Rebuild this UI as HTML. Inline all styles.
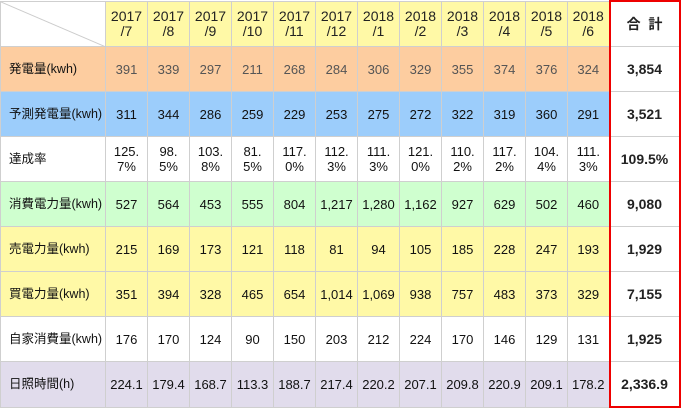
<!DOCTYPE html>
<html><head><meta charset="utf-8">
<style>
body{margin:0;width:681px;height:407px;background:#fff;font-family:"Liberation Sans","Noto Sans CJK JP",sans-serif;overflow:hidden;position:relative}
table{position:absolute;left:0;top:0;border-collapse:collapse;table-layout:fixed}
td{border:1px solid #cfcfcf;height:44px;padding:0;text-align:center;font-size:13px;color:#111;line-height:15px}
td.lbl{text-align:left;padding-left:8px;font-size:12.5px}
tr.h td{background:#fff9a6;font-size:14px;color:#222}
tr.r1 td{background:#fdcda0;color:#555}
tr.r1 td.lbl{color:#111}
tr.r2 td{background:#9ccdfb}
tr.r4 td{background:#cfffcf}
tr.r5 td,tr.r6 td{background:#fff9a6}
tr.r8 td{background:#e1dcec}
td.tot{background:#fff !important;font-weight:bold;font-size:14px;color:#222 !important;border-left:2px solid #e00;border-right:2px solid #e00}
tr.h td.tot{border-top:2px solid #e00}
tr.r8 td.tot{border-bottom:2px solid #e00}
</style></head><body>
<table>
<colgroup><col style="width:105px"><col span="12" style="width:42px"><col style="width:70px"></colgroup>
<tr class="h">
<td style="background:#fff;position:relative"><svg width="105" height="45" style="position:absolute;left:0;top:0"><line x1="0" y1="0" x2="105" y2="45" stroke="#ccc"/></svg></td>
<td>2017<br>/7</td><td>2017<br>/8</td><td>2017<br>/9</td><td>2017<br>/10</td><td>2017<br>/11</td><td>2017<br>/12</td><td>2018<br>/1</td><td>2018<br>/2</td><td>2018<br>/3</td><td>2018<br>/4</td><td>2018<br>/5</td><td>2018<br>/6</td>
<td class="tot">合&nbsp;&nbsp;計</td></tr>
<tr class="r1"><td class="lbl">発電量(kwh)</td><td>391</td><td>339</td><td>297</td><td>211</td><td>268</td><td>284</td><td>306</td><td>329</td><td>355</td><td>374</td><td>376</td><td>324</td><td class="tot">3,854</td></tr>
<tr class="r2"><td class="lbl">予測発電量(kwh)</td><td>311</td><td>344</td><td>286</td><td>259</td><td>229</td><td>253</td><td>275</td><td>272</td><td>322</td><td>319</td><td>360</td><td>291</td><td class="tot">3,521</td></tr>
<tr class="r3"><td class="lbl">達成率</td><td>125.<br>7%</td><td>98.<br>5%</td><td>103.<br>8%</td><td>81.<br>5%</td><td>117.<br>0%</td><td>112.<br>3%</td><td>111.<br>3%</td><td>121.<br>0%</td><td>110.<br>2%</td><td>117.<br>2%</td><td>104.<br>4%</td><td>111.<br>3%</td><td class="tot">109.5%</td></tr>
<tr class="r4"><td class="lbl">消費電力量(kwh)</td><td>527</td><td>564</td><td>453</td><td>555</td><td>804</td><td>1,217</td><td>1,280</td><td>1,162</td><td>927</td><td>629</td><td>502</td><td>460</td><td class="tot">9,080</td></tr>
<tr class="r5"><td class="lbl">売電力量(kwh)</td><td>215</td><td>169</td><td>173</td><td>121</td><td>118</td><td>81</td><td>94</td><td>105</td><td>185</td><td>228</td><td>247</td><td>193</td><td class="tot">1,929</td></tr>
<tr class="r6"><td class="lbl">買電力量(kwh)</td><td>351</td><td>394</td><td>328</td><td>465</td><td>654</td><td>1,014</td><td>1,069</td><td>938</td><td>757</td><td>483</td><td>373</td><td>329</td><td class="tot">7,155</td></tr>
<tr class="r7"><td class="lbl">自家消費量(kwh)</td><td>176</td><td>170</td><td>124</td><td>90</td><td>150</td><td>203</td><td>212</td><td>224</td><td>170</td><td>146</td><td>129</td><td>131</td><td class="tot">1,925</td></tr>
<tr class="r8"><td class="lbl">日照時間(h)</td><td>224.1</td><td>179.4</td><td>168.7</td><td>113.3</td><td>188.7</td><td>217.4</td><td>220.2</td><td>207.1</td><td>209.8</td><td>220.9</td><td>209.1</td><td>178.2</td><td class="tot">2,336.9</td></tr>
</table>
</body></html>
